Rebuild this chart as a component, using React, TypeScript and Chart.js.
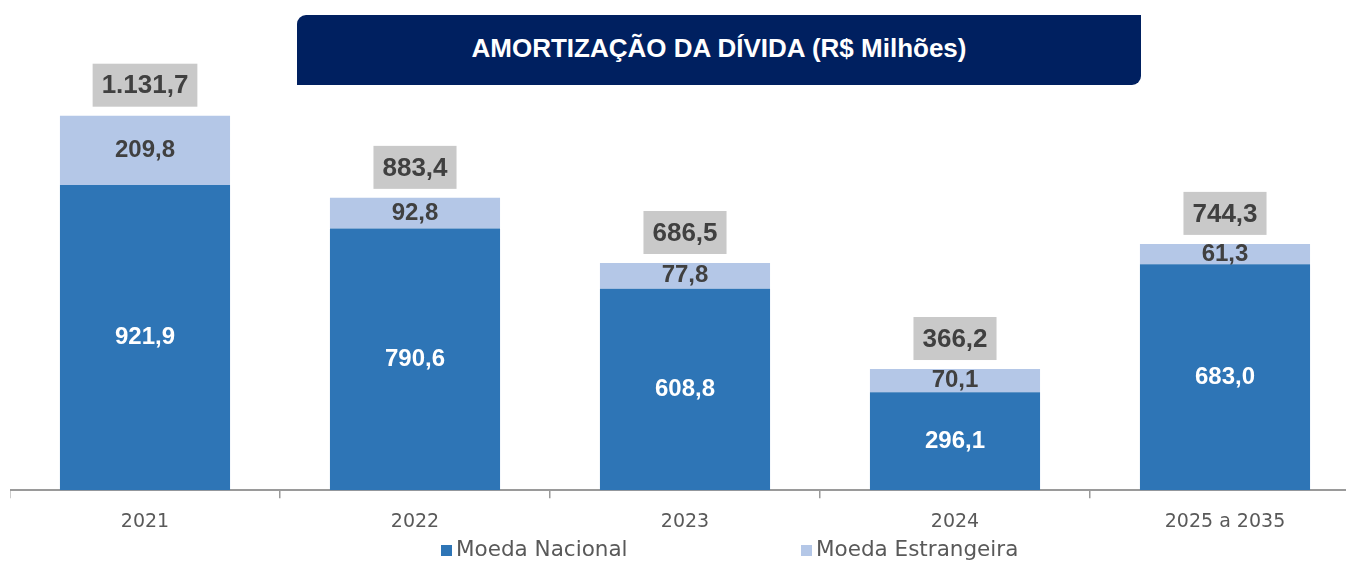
import React, { useEffect, useRef } from "react";
import { Chart, registerables } from "chart.js";

Chart.register(...registerables);

const categories = ["2021", "2022", "2023", "2024", "2025 a 2035"];
const moedaNacional = [921.9, 790.6, 608.8, 296.1, 683.0];
const moedaEstrangeira = [209.8, 92.8, 77.8, 70.1, 61.3];
const totals = [1131.7, 883.4, 686.5, 366.2, 744.3];
const seriesNames = ["Moeda Nacional", "Moeda Estrangeira"];
const seriesColors = ["#2E75B6", "#B4C7E7"];
const titleText = "AMORTIZAÇÃO DA DÍVIDA (R$ Milhões)";

function fmt(v: number): string {
  const s = v.toFixed(1);
  const [i, d] = s.split(".");
  const ii = i.replace(/\B(?=(\d{3})+(?!\d))/g, ".");
  return ii + "," + d;
}

const labelPlugin = {
  id: "valueLabels",
  afterDatasetsDraw(chart: any) {
    const ctx = chart.ctx;
    const m0 = chart.getDatasetMeta(0);
    const m1 = chart.getDatasetMeta(1);
    ctx.save();
    ctx.textAlign = "center";
    ctx.textBaseline = "middle";
    m0.data.forEach((bar: any, i: number) => {
      ctx.font = 'bold 24px "Liberation Sans"';
      ctx.fillStyle = "#FFFFFF";
      ctx.fillText(fmt(moedaNacional[i]), bar.x, (bar.y + bar.base) / 2);
    });
    m1.data.forEach((bar: any, i: number) => {
      ctx.font = 'bold 24px "Liberation Sans"';
      ctx.fillStyle = "#404040";
      ctx.fillText(fmt(moedaEstrangeira[i]), bar.x, (bar.y + bar.base) / 2);
      ctx.font = 'bold 26px "Liberation Sans"';
      const t = fmt(totals[i]);
      const w = ctx.measureText(t).width + 18;
      const h = 43;
      const bottom = bar.y - 9;
      ctx.fillStyle = "#C9C9C9";
      ctx.fillRect(bar.x - w / 2, bottom - h, w, h);
      ctx.fillStyle = "#404040";
      ctx.fillText(t, bar.x, bottom - h / 2 + 1);
    });
    ctx.restore();
  },
  afterDraw(chart: any) {
    const ctx = chart.ctx;
    ctx.save();
    ctx.textAlign = "left";
    ctx.textBaseline = "middle";
    ctx.font = '21.5px "DejaVu Sans"';
    const starts = [431, 791];
    const cy = 550;
    seriesNames.forEach((name, i) => {
      ctx.fillStyle = seriesColors[i];
      ctx.fillRect(starts[i], cy - 5, 11, 11);
      ctx.fillStyle = "#595959";
      ctx.fillText(name, starts[i] + 15, cy);
    });
    ctx.restore();
  },
};

export default function App() {
  const ref = useRef<HTMLCanvasElement | null>(null);
  useEffect(() => {
    if (!ref.current) return;
    const chart = new Chart(ref.current, {
      type: "bar",
      data: {
        labels: categories,
        datasets: [
          {
            label: seriesNames[0],
            data: moedaNacional,
            backgroundColor: seriesColors[0],
            borderWidth: 0,
            barPercentage: 0.63,
            categoryPercentage: 1,
          },
          {
            label: seriesNames[1],
            data: moedaEstrangeira,
            backgroundColor: seriesColors[1],
            borderWidth: 0,
            barPercentage: 0.63,
            categoryPercentage: 1,
          },
        ],
      },
      options: {
        responsive: false,
        animation: false,
        layout: { padding: { top: 60, bottom: 16, left: 0, right: 0 } },
        plugins: {
          legend: { display: false },
          tooltip: { enabled: false },
          title: { display: false },
        },
        scales: {
          x: {
            stacked: true,
            grid: {
              display: true,
              drawOnChartArea: false,
              drawTicks: true,
              tickLength: 8,
              color: "#9A9A9A",
              lineWidth: 1.5,
              offset: true,
            },
            border: { display: true, color: "#9A9A9A", width: 2 },
            ticks: {
              color: "#595959",
              font: { family: "DejaVu Sans", size: 19 },
              padding: 12,
            },
          },
          y: { stacked: true, display: false, min: 0, max: 1300 },
        },
      },
      plugins: [labelPlugin],
    });
    return () => chart.destroy();
  }, []);

  return (
    <div
      style={{
        position: "fixed",
        left: 0,
        top: 0,
        width: 1346,
        height: 561,
        overflow: "hidden",
        background: "#FFFFFF",
      }}
    >
      <canvas
        ref={ref}
        width={1350}
        height={561}
        style={{ position: "absolute", left: 10, top: 0, display: "block" }}
      />
      <div
        style={{
          position: "absolute",
          left: 297,
          top: 15,
          width: 844,
          height: 70,
          background: "#002060",
          borderRadius: "9px 0 9px 0",
          color: "#FFFFFF",
          fontFamily: '"Liberation Sans", Arial, sans-serif',
          fontWeight: "bold",
          fontSize: 26,
          display: "flex",
          alignItems: "center",
          justifyContent: "center",
          paddingBottom: 4,
          boxSizing: "border-box",
        }}
      >
        {titleText}
      </div>
    </div>
  );
}
